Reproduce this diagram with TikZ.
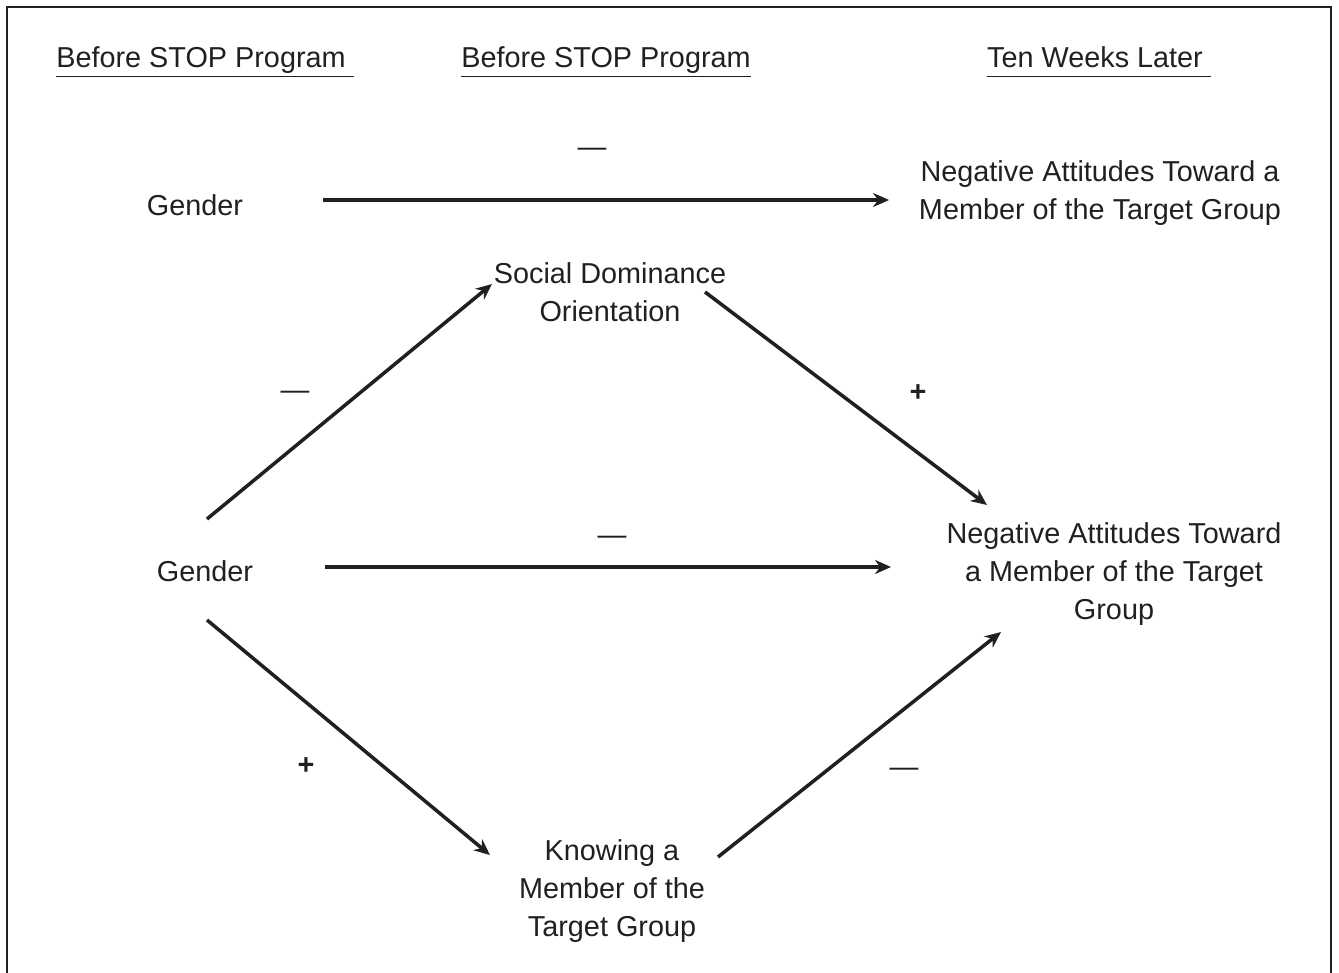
\documentclass[tikz,border=0pt]{standalone}
\usepackage{fontspec}
\setmainfont{Liberation Sans}
\usepackage{tikz}
\usepackage{xcolor}
\usetikzlibrary{arrows.meta}

\definecolor{ink}{HTML}{231F20}
\newcommand{\colhead}[1]{\underline{#1\vphantom{g}}}

\begin{document}
\begin{tikzpicture}[baseline,
		txt/.style={inner sep=0pt, align=center, text=ink, font=\fontsize{16.4}{21.6}\selectfont},
		sign/.style={inner sep=0pt, text=ink, font=\fontsize{16.4}{21.6}\selectfont},
		arr/.style={-{Stealth[length=0.32cm,width=0.28cm]}, line width=2pt, ink}]
			\useasboundingbox (0,0) rectangle (26.78,-19.46);
			
			% Frame, open at the bottom
			\draw[line width=1.1pt, ink] (0.14,-19.46) -- (0.14,-0.14) -- (26.62,-0.14) -- (26.62,-19.46);
			
			% Column heads
			\node (h1) at (4.1,-1.36) [txt, anchor=base] {\colhead{Before STOP Program~}};
			\node (h2) at (12.12,-1.36) [txt, anchor=base] {\colhead{Before STOP Program}};
			\node (h3) at (21.98,-1.36) [txt, anchor=base] {\colhead{Ten Weeks Later~}};
			
			% Fixed coordinates, top model
			\node (g1) at (3.9,-4.1) [txt] {Gender};
			\node (n1) at (22.0,-3.87) [txt] {Negative Attitudes Toward a\\Member of the Target Group};
			
			% Fixed coordinates, lower model
			\node (s1) at (12.2,-5.85) [txt] {Social Dominance\\Orientation};
			\node (g2) at (4.1,-11.42) [txt] {Gender};
			\node (n2) at (22.28,-11.48) [txt] {Negative Attitudes Toward\\a Member of the Target\\Group};
			\node (k1) at (12.24,-17.82) [txt] {Knowing a\\Member of the\\Target Group};
			
			% Paths
			\draw[arr] ([xshift=2.56cm,yshift=0.1cm]g1.center) -- ([xshift=-4.22cm,yshift=-0.13cm]n1.center);
			\draw[arr] ([shift={(0.04,1.04)}]g2.center) -- ([shift={(-2.36,0.17)}]s1.center);
			\draw[arr] ([xshift=1.9cm,yshift=0.01cm]s1.center) -- ([shift={(-2.54,1.38)}]n2.center);
			\draw[arr] ([xshift=2.4cm,yshift=0.08cm]g2.center) -- ([xshift=-4.46cm,yshift=0.14cm]n2.center);
			\draw[arr] ([shift={(0.04,-0.98)}]g2.center) -- ([shift={(-2.44,0.72)}]k1.center);
			\draw[arr] ([shift={(2.12,0.68)}]k1.center) -- ([shift={(-2.26,-1.16)}]n2.center);
			
			% Signs on the paths
			\node (l1) at (11.84,-3.04) [sign] {—};
			\node (l2) at (5.9,-7.9) [sign] {—};
			\node (l3) at (18.36,-7.86) [sign] {\textbf{+}};
			\node (l4) at (12.24,-10.8) [sign] {—};
			\node (l5) at (6.12,-15.32) [sign] {\textbf{+}};
			\node (l6) at (18.08,-15.44) [sign] {—};
		\end{tikzpicture}
\end{document}
